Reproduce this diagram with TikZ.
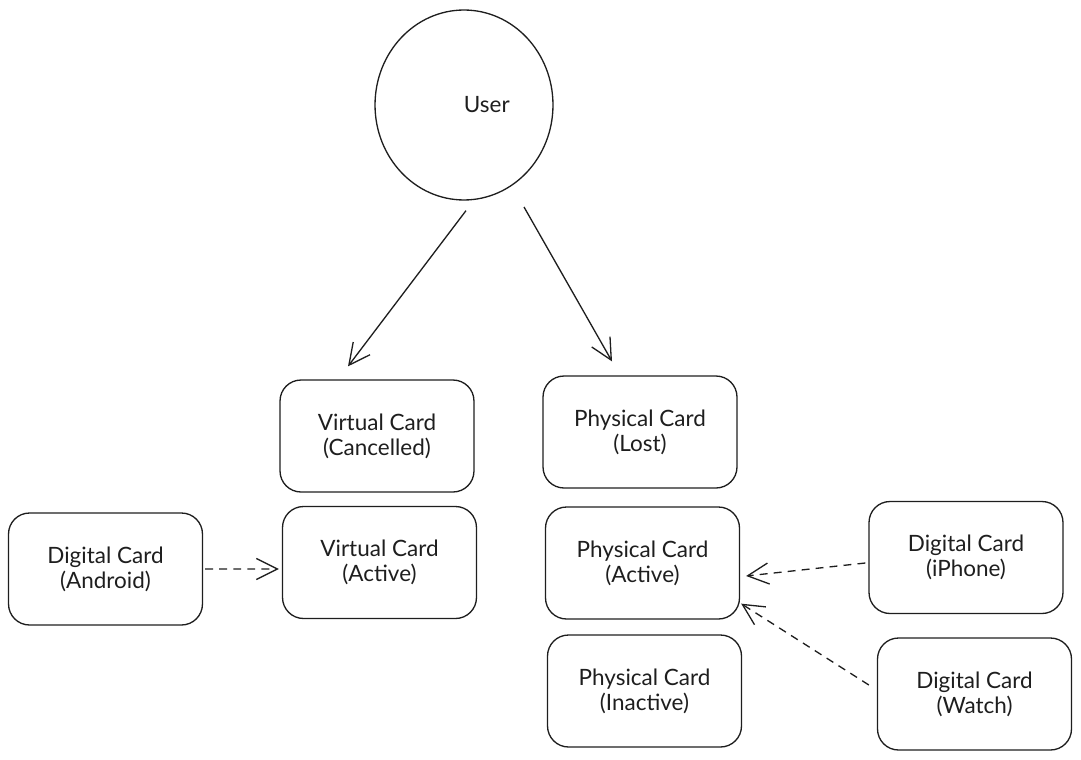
\documentclass[tikz,border=0pt]{standalone}
\usepackage{fontspec}
\setmainfont{Lato}
\usetikzlibrary{arrows.meta,shapes.geometric}
\definecolor{ink}{HTML}{1E1E1E}
\begin{document}
\begin{tikzpicture}[x=0.02cm,y=-0.02cm,
  ink/.style={draw=ink,line width=0.75pt},
  card/.style={ink,rectangle,rounded corners=0.42cm,minimum width=3.88cm,minimum height=2.24cm,
    align=center,text=ink,font=\fontsize{12.8pt}{14.2pt}\selectfont,inner sep=0pt},
  arr/.style={draw=ink,line width=0.75pt,-{Straight Barb[length=12pt,width=12pt]}},
  darr/.style={arr,dash pattern=on 4.5pt off 3.5pt}]
\useasboundingbox (0,0) rectangle (1081,760);
\node[ink,ellipse,minimum width=3.56cm,minimum height=3.8cm,inner sep=0pt,text=ink,
  font=\fontsize{12.8pt}{14.2pt}\selectfont] (user) at (464,105) {\hspace*{26pt}User};
\node[card] (vc) at (377,436) {Virtual Card\\(Cancelled)};
\node[card] (pl) at (640,432) {Physical Card\\(Lost)};
\node[card] (da) at (105.5,569) {Digital Card\\(Android)};
\node[card] (va) at (379.5,562.5) {Virtual Card\\(Active)};
\node[card] (pa) at (642.5,563) {Physical Card\\(Active)};
\node[card] (di) at (966,557.5) {Digital Card\\(iPhone)};
\node[card] (pi) at (644.5,691) {Physical Card\\(Inactive)};
\node[card] (dw) at (974.5,694) {Digital Card\\(Watch)};
\draw[arr] ([shift={(2,10)}]user.south) -- ([shift={(-29,-13)}]vc.north);
\draw[arr] ([shift={(60,102)}]user.center) -- ([shift={(-28,-14)}]pl.north);
\draw[darr] ([shift={(2,0)}]da.east) -- ([shift={(-3,6.5)}]va.west);
\draw[darr] ([shift={(-3,5.5)}]di.west) -- ([shift={(6,13)}]pa.east);
\draw[darr] ([shift={(-8,-9)}]dw.west) -- ([shift={(1,-16)}]pa.south east);
\end{tikzpicture}
\end{document}
